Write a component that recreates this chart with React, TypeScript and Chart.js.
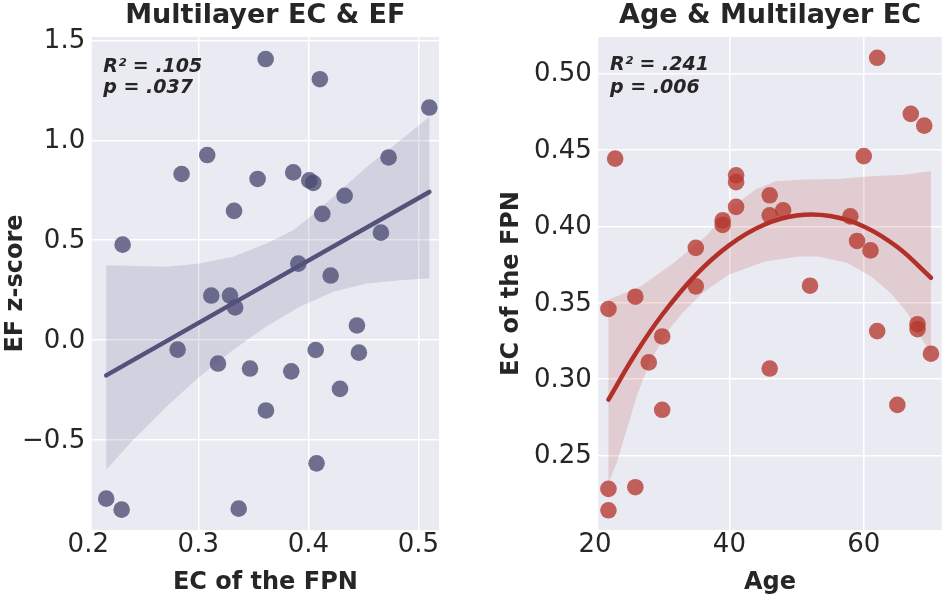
import React, { useEffect, useRef } from 'react';
import { Chart, registerables } from 'chart.js';

Chart.register(...registerables);

const FONT = '"DejaVu Sans", "Liberation Sans", sans-serif';
const TEXT = '#262626';

// ---------- Left panel: Multilayer EC & EF ----------
const leftTitle = 'Multilayer EC & EF';
const leftXLabel = 'EC of the FPN';
const leftYLabel = 'EF z-score';
const leftStats = ['R² = .105', 'p = .037'];
const ecFPN = [
  0.3612, 0.4105, 0.51, 0.3081, 0.2848, 0.473, 0.3539, 0.3863, 0.4009, 0.4045, 0.433,
  0.3325, 0.4127, 0.466, 0.2312, 0.3909, 0.4203, 0.3118, 0.3288, 0.3335, 0.4442, 0.2812,
  0.4067, 0.446, 0.3179, 0.347, 0.3845, 0.4288, 0.3615, 0.4075, 0.2163, 0.2303, 0.3367,
];
const efZ = [
  1.408, 1.307, 1.165, 0.927, 0.832, 0.915, 0.807, 0.84, 0.8, 0.787, 0.723,
  0.647, 0.632, 0.538, 0.478, 0.383, 0.323, 0.223, 0.223, 0.163, 0.073, -0.048,
  -0.05, -0.063, -0.118, -0.143, -0.157, -0.245, -0.353, -0.618, -0.795, -0.85, -0.845,
];
const leftFitX = [0.2163, 0.51];
const leftFitY = [-0.177, 0.742];
const leftBandUpperX = [0.2163, 0.2712, 0.3012, 0.3315, 0.3615, 0.3863, 0.4015, 0.4225, 0.453, 0.4835, 0.51];
const leftBandUpperY = [0.375, 0.367, 0.383, 0.417, 0.483, 0.55, 0.617, 0.717, 0.867, 1.0, 1.117];
const leftBandLowerX = [0.2163, 0.2409, 0.2712, 0.3012, 0.3315, 0.3615, 0.3921, 0.4225, 0.453, 0.4835, 0.51];
const leftBandLowerY = [-0.65, -0.5, -0.333, -0.183, -0.05, 0.067, 0.167, 0.242, 0.283, 0.3, 0.31];
const leftXTicks = [0.2, 0.3, 0.4, 0.5];
const leftYTicks = [-0.5, 0, 0.5, 1.0, 1.5];

// ---------- Right panel: Age & Multilayer EC ----------
const rightTitle = 'Age & Multilayer EC';
const rightXLabel = 'Age';
const rightYLabel = 'EC of the FPN';
const rightStats = ['R² = .241', 'p = .006'];
const age = [
  62, 67, 69, 23, 60, 41, 41, 41, 46, 46, 48, 39, 39, 58, 35, 59, 61,
  35, 52, 26, 22, 62, 68, 68, 30, 70, 28, 46, 30, 65, 22, 26, 22,
];
const ecAge = [
  0.5104, 0.4737, 0.466, 0.4444, 0.446, 0.4335, 0.429, 0.4128, 0.4204, 0.4073, 0.4106,
  0.404, 0.401, 0.4066, 0.386, 0.3905, 0.3843, 0.3608, 0.3612, 0.354, 0.346, 0.3315,
  0.336, 0.3328, 0.328, 0.3167, 0.311, 0.307, 0.28, 0.2832, 0.2282, 0.2293, 0.2142,
];
const rightFitX = [22, 26, 30, 35, 40, 45, 50, 55, 60, 65, 70];
const rightFitY = [0.2866, 0.3165, 0.3422, 0.3683, 0.3878, 0.4008, 0.4071, 0.4068, 0.4, 0.3865, 0.3664];
const rightBandUpperX = [22, 26.8, 31.7, 36.6, 40.5, 43.9, 46.9, 51.3, 56.2, 61.1, 66, 70];
const rightBandUpperY = [0.352, 0.3607, 0.3761, 0.394, 0.4132, 0.4241, 0.4296, 0.4307, 0.4311, 0.4328, 0.4339, 0.4361];
const rightBandLowerX = [22, 23.2, 24.7, 26.2, 28.1, 30.6, 33, 36, 39.9, 45.3, 50.3, 53.2, 57.6, 61.1, 64, 66.5, 68.4, 70];
const rightBandLowerY = [0.232, 0.245, 0.2668, 0.2887, 0.3106, 0.3302, 0.3433, 0.3564, 0.3684, 0.3771, 0.3804, 0.3804, 0.376, 0.3673, 0.3564, 0.3433, 0.328, 0.3171];
const rightXTicks = [20, 40, 60];
const rightYTicks = [0.25, 0.3, 0.35, 0.4, 0.45, 0.5];

type Panel = {
  title: string;
  xLabel: string;
  yLabel: string;
  stats: string[];
  xs: number[];
  ys: number[];
  fitX: number[];
  fitY: number[];
  upX: number[];
  upY: number[];
  loX: number[];
  loY: number[];
  xTicks: number[];
  yTicks: number[];
  xMin: number;
  xMax: number;
  yMin: number;
  yMax: number;
  xFmt: (v: number) => string;
  yFmt: (v: number) => string;
  pointColor: string;
  lineColor: string;
  bandColor: string;
  axisWidth: number;
  padRight: number;
  statsX: number;
  statsY: number[];
  yLabelX: number;
};

const minus = (s: string) => s.replace('-', '\u2212');

const leftPanel: Panel = {
  title: leftTitle,
  xLabel: leftXLabel,
  yLabel: leftYLabel,
  stats: leftStats,
  xs: ecFPN,
  ys: efZ,
  fitX: leftFitX,
  fitY: leftFitY,
  upX: leftBandUpperX,
  upY: leftBandUpperY,
  loX: leftBandLowerX,
  loY: leftBandLowerY,
  xTicks: leftXTicks,
  yTicks: leftYTicks,
  xMin: 0.2031,
  xMax: 0.5188,
  yMin: -0.952,
  yMax: 1.5185,
  xFmt: (v) => v.toFixed(1),
  yFmt: (v) => minus(v.toFixed(1)),
  pointColor: 'rgba(74,74,115,0.78)',
  lineColor: '#52527a',
  bandColor: 'rgba(80,80,122,0.16)',
  axisWidth: 91.7,
  padRight: 36,
  statsX: 103.3,
  statsY: [71.7, 93.3],
  yLabelX: 22,
};

const rightPanel: Panel = {
  title: rightTitle,
  xLabel: rightXLabel,
  yLabel: rightYLabel,
  stats: rightStats,
  xs: age,
  ys: ecAge,
  fitX: rightFitX,
  fitY: rightFitY,
  upX: rightBandUpperX,
  upY: rightBandUpperY,
  loX: rightBandLowerX,
  loY: rightBandLowerY,
  xTicks: rightXTicks,
  yTicks: rightYTicks,
  xMin: 20.49,
  xMax: 71.6,
  yMin: 0.2013,
  yMax: 0.524,
  xFmt: (v) => String(v),
  yFmt: (v) => v.toFixed(2),
  pointColor: 'rgba(181,56,47,0.78)',
  lineColor: '#b2302a',
  bandColor: 'rgba(178,50,40,0.16)',
  axisWidth: 123.3,
  padRight: 5,
  statsX: 135,
  statsY: [70, 92.7],
  yLabelX: 43,
};

function decor(p: Panel) {
  return {
    id: 'decor',
    beforeDraw(chart: any) {
      const { ctx, chartArea: a } = chart;
      ctx.save();
      ctx.fillStyle = '#EAEAF2';
      ctx.fillRect(a.left, a.top, a.right - a.left, a.bottom - a.top);
      ctx.restore();
    },
    afterDraw(chart: any) {
      const { ctx, chartArea: a } = chart;
      const cx = (a.left + a.right) / 2;
      const cy = (a.top + a.bottom) / 2;
      ctx.save();
      ctx.fillStyle = TEXT;
      ctx.textBaseline = 'alphabetic';
      ctx.textAlign = 'center';
      ctx.font = `bold 27px ${FONT}`;
      ctx.fillText(p.title, cx, 23);
      ctx.font = `bold 24px ${FONT}`;
      ctx.fillText(p.xLabel, cx, 589);
      ctx.save();
      ctx.translate(p.yLabelX, cy);
      ctx.rotate(-Math.PI / 2);
      ctx.fillText(p.yLabel, 0, 0);
      ctx.restore();
      ctx.textAlign = 'left';
      ctx.font = `italic bold 19px ${FONT}`;
      p.stats.forEach((s, i) => ctx.fillText(s, p.statsX, p.statsY[i]));
      ctx.restore();
    },
  };
}

function makeConfig(p: Panel): any {
  const points = p.xs.map((x, i) => ({ x, y: p.ys[i] }));
  const fit = p.fitX.map((x, i) => ({ x, y: p.fitY[i] }));
  const band = [
    ...p.upX.map((x, i) => ({ x, y: p.upY[i] })),
    ...p.loX.map((x, i) => ({ x, y: p.loY[i] })).reverse(),
  ];
  const tickFont = { family: FONT, size: 26 };
  return {
    type: 'scatter',
    data: {
      datasets: [
        {
          data: points,
          pointRadius: 8.3,
          pointHoverRadius: 8.3,
          backgroundColor: p.pointColor,
          borderWidth: 0,
          order: 3,
        },
        {
          data: band,
          showLine: true,
          borderWidth: 0,
          borderColor: 'rgba(0,0,0,0)',
          pointRadius: 0,
          backgroundColor: p.bandColor,
          fill: 'shape',
          tension: 0,
          order: 2,
        },
        {
          data: fit,
          showLine: true,
          borderColor: p.lineColor,
          borderWidth: 4.5,
          borderCapStyle: 'round',
          pointRadius: 0,
          fill: false,
          tension: 0.4,
          order: 1,
        },
      ],
    },
    options: {
      responsive: false,
      animation: false,
      events: [],
      layout: { padding: { top: 37, right: p.padRight, left: 0, bottom: 0 } },
      plugins: {
        legend: { display: false },
        tooltip: { enabled: false },
        title: { display: false },
      },
      scales: {
        x: {
          type: 'linear',
          min: p.xMin,
          max: p.xMax,
          afterFit: (s: any) => {
            s.height = 68;
          },
          afterBuildTicks: (s: any) => {
            s.ticks = p.xTicks.map((v) => ({ value: v }));
          },
          grid: { color: '#ffffff', lineWidth: 1.5, drawTicks: false },
          border: { display: false },
          ticks: {
            font: tickFont,
            color: TEXT,
            padding: 0,
            maxRotation: 0,
            autoSkip: false,
            callback: (v: any) => p.xFmt(Number(v)),
          },
        },
        y: {
          type: 'linear',
          min: p.yMin,
          max: p.yMax,
          afterFit: (s: any) => {
            s.width = p.axisWidth;
          },
          afterBuildTicks: (s: any) => {
            s.ticks = p.yTicks.map((v) => ({ value: v }));
          },
          grid: { color: '#ffffff', lineWidth: 1.5, drawTicks: false },
          border: { display: false },
          ticks: {
            font: tickFont,
            color: TEXT,
            padding: 6.5,
            labelOffset: 1,
            autoSkip: false,
            callback: (v: any) => p.yFmt(Number(v)),
          },
        },
      },
    },
    plugins: [decor(p)],
  };
}

function Panel({ panel, left }: { panel: Panel; left: number }) {
  const ref = useRef<HTMLCanvasElement | null>(null);
  useEffect(() => {
    if (!ref.current) return;
    const chart = new Chart(ref.current, makeConfig(panel));
    return () => chart.destroy();
  }, [panel]);
  return (
    <canvas
      ref={ref}
      width={475}
      height={598}
      style={{ position: 'absolute', left, top: 0, width: 475, height: 598, display: 'block' }}
    />
  );
}

export default function App() {
  return (
    <div style={{ position: 'fixed', left: 0, top: 0, width: 950, height: 598, background: '#ffffff' }}>
      <Panel panel={leftPanel} left={0} />
      <Panel panel={rightPanel} left={475} />
    </div>
  );
}
